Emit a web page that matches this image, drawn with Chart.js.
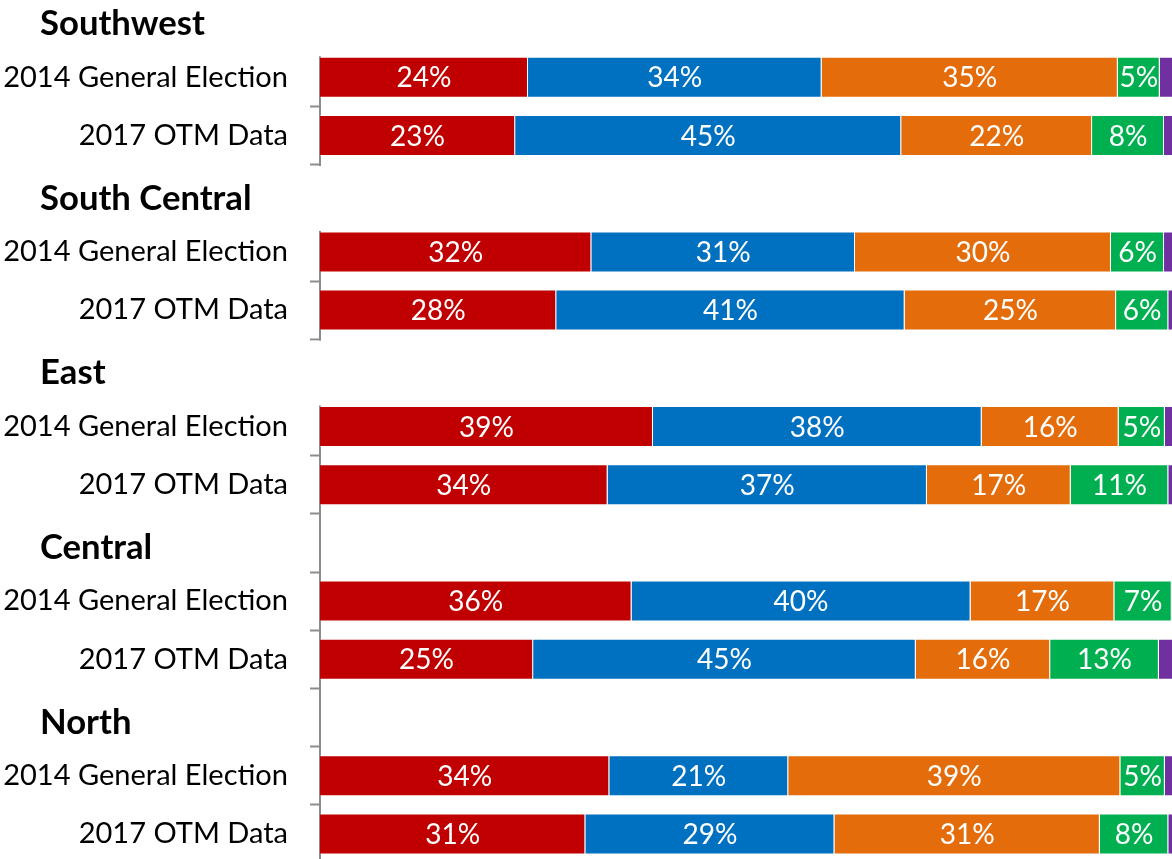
<!DOCTYPE html>
<html><head><meta charset="utf-8">
<script src="https://cdn.jsdelivr.net/npm/chart.js@4.4.1/dist/chart.umd.min.js"></script>
<style>
html,body{margin:0;padding:0;background:#fff;overflow:hidden;width:1172px;height:859px;}
#wrap{position:absolute;left:0;top:-10px;width:1176px;height:873px;}
</style>
</head><body><div id="wrap"><canvas id="c"></canvas></div>
<script>
// ---- data ----
const regions = ['Southwest', 'South Central', 'East', 'Central', 'North'];
const rowLabels = ['2014 General Election', '2017 OTM Data'];
const seriesNames = ['Party A', 'Party B', 'Party C', 'Party D', 'Other'];
// two values per region: [2014, 2017]
const red    = [24.3, 22.8, 31.7, 27.6, 38.9, 33.6, 36.4, 24.9, 33.8, 31.0];
const blue   = [34.3, 45.1, 30.8, 40.7, 38.4, 37.3, 39.6, 44.7, 20.9, 29.1];
const orange = [34.6, 22.3, 29.9, 24.7, 16.0, 16.8, 16.8, 15.7, 38.8, 31.0];
const green  = [4.9, 8.4, 6.2, 6.1, 5.4, 11.4, 6.7, 12.7, 5.2, 8.0];
const purple = [1.9, 1.4, 1.4, 0.9, 1.0, 0.9, 0.5, 2.0, 1.3, 0.9];
const colors = ['#C00000', '#0070C0', '#E46C0A', '#00B050', '#7030A0'];

// ---- build category rows: header row + two bar rows per region ----
const labels = [];
const headerIdx = [];
regions.forEach((r) => { headerIdx.push(labels.length); labels.push(''); rowLabels.forEach(l => labels.push(l)); });
function expand(arr) {
  const out = [];
  regions.forEach((r, i) => { out.push(null, arr[2 * i], arr[2 * i + 1]); });
  return out;
}
const seriesVals = [red, blue, orange, green, purple];

const FONT = 'Lato, "Open Sans", sans-serif';
function fitSize(text, target, weight) {
  const c = document.createElement('canvas').getContext('2d');
  c.font = weight + ' 100px ' + FONT;
  return 100 * target / c.measureText(text).width;
}
const catSize = fitSize('2014 General Election', 285, 'normal');
const hdrSize = fitSize('Southwest', 165, 'bold');
const lblSize = fitSize('34%', 55, 'normal');

const BAR_FRAC = 41 / 58.2;

const overlay = {
  id: 'overlay',
  afterDatasetsDraw(chart) {
    const ctx = chart.ctx;
    const ys = chart.scales.y;
    const ca = chart.chartArea;
    const slot = ys.getPixelForValue(1) - ys.getPixelForValue(0);
    const barH = slot * BAR_FRAC;
    // value labels
    ctx.save();
    ctx.fillStyle = '#fff';
    ctx.font = 'normal ' + lblSize + 'px ' + FONT;
    ctx.textAlign = 'center';
    ctx.textBaseline = 'middle';
    chart.data.datasets.forEach((ds, di) => {
      const meta = chart.getDatasetMeta(di);
      meta.data.forEach((el, i) => {
        const v = ds.data[i];
        if (v == null || v < 3) return;
        ctx.fillText(Math.round(v) + '%', (el.x + el.base) / 2, el.y + 1);
      });
    });
    ctx.restore();
    // header text boxes (first three hide the axis behind them)
    ctx.save();
    headerIdx.forEach((h, r) => {
      const cy = ys.getPixelForValue(h);
      if (r < 3) {
        const top = r === 0 ? ca.top - 20 : cy - slot / 2 + 1.5;
        const bottom = ys.getPixelForValue(h + 1) - barH / 2 - 0.5;
        ctx.fillStyle = '#fff';
        ctx.fillRect(ca.left - 16, top, 18, bottom - top);
      }
      ctx.fillStyle = '#000';
      ctx.font = 'bold ' + hdrSize + 'px ' + FONT;
      ctx.textAlign = 'left';
      ctx.textBaseline = 'middle';
      ctx.fillText(regions[r], 40, cy + 5);
    });
    ctx.restore();
  }
};

new Chart(document.getElementById('c'), {
  type: 'bar',
  data: {
    labels: labels,
    datasets: seriesVals.map((arr, i) => ({
      label: seriesNames[i],
      data: expand(arr),
      backgroundColor: colors[i],
      borderColor: 'rgba(255,255,255,0.35)',
      borderWidth: 1,
      categoryPercentage: 1,
      barPercentage: BAR_FRAC
    }))
  },
  options: {
    indexAxis: 'y',
    responsive: true,
    maintainAspectRatio: false,
    animation: false,
    layout: { padding: 0 },
    plugins: { legend: { display: false }, tooltip: { enabled: false } },
    scales: {
      x: { stacked: true, min: 0, max: 100, display: false },
      y: {
        stacked: true,
        afterFit(s) { s.width = 320; s.paddingTop = 0; s.paddingBottom = 0; },
        border: { display: true, color: '#8C8C8C', width: 2 },
        grid: { offset: true, drawOnChartArea: false, drawTicks: true, tickLength: 10, tickWidth: 2, tickColor: '#8C8C8C', color: '#8C8C8C' },
        ticks: { color: '#000', padding: 22, font: { family: FONT, size: catSize }, autoSkip: false }
      }
    }
  },
  plugins: [overlay]
});
</script>
</body></html>
